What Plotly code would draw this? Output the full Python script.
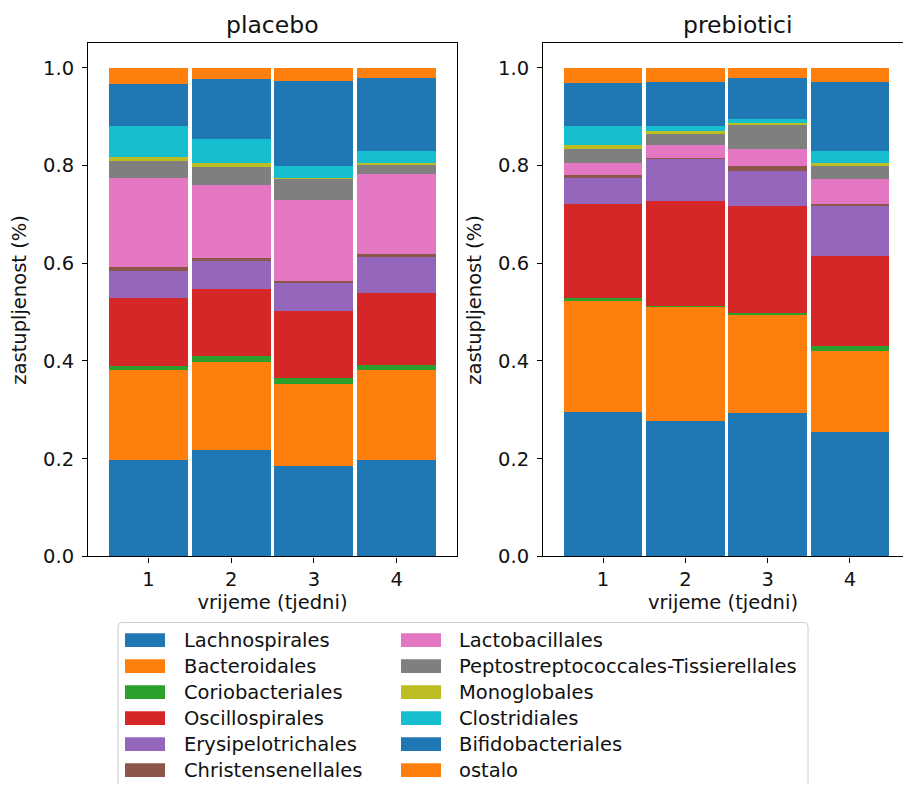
import plotly.graph_objects as go

# Relative abundance of bacterial orders per week, two study groups
weeks = [1, 2, 3, 4]
tick_labels = ["1", "2", "3", "4"]

orders = [
    "Lachnospirales", "Bacteroidales", "Coriobacteriales", "Oscillospirales",
    "Erysipelotrichales", "Christensenellales", "Lactobacillales",
    "Peptostreptococcales-Tissierellales", "Monoglobales", "Clostridiales",
    "Bifidobacteriales", "ostalo",
]

# placebo group, weeks 1-4
pl_lachnospirales = [0.198, 0.218, 0.185, 0.198]
pl_bacteroidales = [0.183, 0.179, 0.168, 0.184]
pl_coriobacteriales = [0.008, 0.013, 0.013, 0.010]
pl_oscillospirales = [0.140, 0.137, 0.137, 0.147]
pl_erysipelotrichales = [0.056, 0.058, 0.057, 0.075]
pl_christensenellales = [0.008, 0.006, 0.004, 0.004]
pl_lactobacillales = [0.181, 0.150, 0.166, 0.164]
pl_peptostreptococcales = [0.036, 0.036, 0.042, 0.020]
pl_monoglobales = [0.008, 0.008, 0.002, 0.003]
pl_clostridiales = [0.062, 0.050, 0.026, 0.024]
pl_bifidobacteriales = [0.086, 0.121, 0.173, 0.150]
pl_ostalo = [0.034, 0.024, 0.027, 0.021]

# prebiotic group, weeks 1-4
pr_lachnospirales = [0.296, 0.278, 0.294, 0.255]
pr_bacteroidales = [0.227, 0.233, 0.201, 0.165]
pr_coriobacteriales = [0.005, 0.002, 0.004, 0.011]
pr_oscillospirales = [0.194, 0.215, 0.218, 0.183]
pr_erysipelotrichales = [0.052, 0.085, 0.072, 0.103]
pr_christensenellales = [0.006, 0.002, 0.011, 0.005]
pr_lactobacillales = [0.025, 0.026, 0.034, 0.050]
pr_peptostreptococcales = [0.028, 0.024, 0.049, 0.028]
pr_monoglobales = [0.008, 0.005, 0.005, 0.005]
pr_clostridiales = [0.039, 0.010, 0.008, 0.024]
pr_bifidobacteriales = [0.088, 0.090, 0.083, 0.141]
pr_ostalo = [0.032, 0.030, 0.021, 0.030]

placebo = [
    pl_lachnospirales, pl_bacteroidales, pl_coriobacteriales, pl_oscillospirales,
    pl_erysipelotrichales, pl_christensenellales, pl_lactobacillales,
    pl_peptostreptococcales, pl_monoglobales, pl_clostridiales,
    pl_bifidobacteriales, pl_ostalo,
]
prebiotici = [
    pr_lachnospirales, pr_bacteroidales, pr_coriobacteriales, pr_oscillospirales,
    pr_erysipelotrichales, pr_christensenellales, pr_lactobacillales,
    pr_peptostreptococcales, pr_monoglobales, pr_clostridiales,
    pr_bifidobacteriales, pr_ostalo,
]

colors = [
    "#1f77b4", "#ff7f0e", "#2ca02c", "#d62728", "#9467bd", "#8c564b",
    "#e377c2", "#7f7f7f", "#bcbd22", "#17becf", "#1f77b4", "#ff7f0e",
]

W, H = 903, 796
FONT = "DejaVu Sans"
FS = 19.5      # tick, axis-title and legend text
FS_TITLE = 23.5
TEXT = "#111111"


def px_x(x):
    return x / W


def px_y(y):
    return (H - y) / H


fig = go.Figure()

for name, color, vals in zip(orders, colors, placebo):
    fig.add_trace(go.Bar(x=weeks, y=vals, name=name, marker_color=color,
                         marker_line_width=0, xaxis="x", yaxis="y",
                         showlegend=False))
for name, color, vals in zip(orders, colors, prebiotici):
    fig.add_trace(go.Bar(x=weeks, y=vals, name=name, marker_color=color,
                         marker_line_width=0, xaxis="x2", yaxis="y2",
                         showlegend=False))

axis_common = dict(
    showline=True, linecolor="black", linewidth=1.1,
    ticks="outside", ticklen=5, tickwidth=1.1, tickcolor="black",
    showgrid=False, zeroline=False,
    tickfont=dict(family=FONT, size=FS, color=TEXT),
)
y_ticks = [0, 0.2, 0.4, 0.6, 0.8, 1.0]
y_text = ["0.0", "0.2", "0.4", "0.6", "0.8", "1.0"]
y_dom = [px_y(565), px_y(44)]

fig.update_layout(
    width=W, height=H, autosize=False,
    margin=dict(l=0, r=0, t=0, b=0),
    paper_bgcolor="white", plot_bgcolor="white",
    barmode="stack", bargap=0.045,
    font=dict(family=FONT, size=FS, color=TEXT),
    xaxis=dict(domain=[px_x(88), px_x(457)], range=[0.27, 4.73], mirror=True,
               tickvals=weeks, ticktext=tick_labels,
               title=dict(text="vrijeme (tjedni)", standoff=4,
                          font=dict(family=FONT, size=FS)),
               anchor="y", **axis_common),
    yaxis=dict(domain=y_dom, range=[0, 1.05], mirror=True,
               tickvals=y_ticks, ticktext=y_text, ticklabelstandoff=4,
               title=dict(text="zastupljenost (%)", standoff=11,
                          font=dict(family=FONT, size=FS)),
               anchor="x", **axis_common),
    xaxis2=dict(domain=[px_x(543), 1.0], range=[0.27, 4.645], mirror=True,
                tickvals=weeks, ticktext=tick_labels,
                title=dict(text="vrijeme (tjedni)", standoff=4,
                           font=dict(family=FONT, size=FS)),
                anchor="y2", **axis_common),
    yaxis2=dict(domain=y_dom, range=[0, 1.05], mirror=False,
                tickvals=y_ticks, ticktext=y_text, ticklabelstandoff=4,
                title=dict(text="zastupljenost (%)", standoff=11,
                           font=dict(family=FONT, size=FS)),
                anchor="x2", **axis_common),
)

# Panel titles
for text, cx in (("placebo", 272), ("prebiotici", 738)):
    fig.add_annotation(text=text, x=px_x(cx), y=px_y(25), xref="paper", yref="paper",
                       showarrow=False, xanchor="center", yanchor="middle",
                       font=dict(family=FONT, size=FS_TITLE, color=TEXT))

# Two-column legend below the panels; its frame runs off the bottom edge
lx0, lx1, ly_top, r = 118, 808, 632, 4
frame_path = (
    f"M {px_x(lx0)},{px_y(H)} L {px_x(lx0)},{px_y(ly_top + r)} "
    f"Q {px_x(lx0)},{px_y(ly_top)} {px_x(lx0 + r)},{px_y(ly_top)} "
    f"L {px_x(lx1 - r)},{px_y(ly_top)} "
    f"Q {px_x(lx1)},{px_y(ly_top)} {px_x(lx1)},{px_y(ly_top + r)} "
    f"L {px_x(lx1)},{px_y(H)}"
)
shapes = [dict(type="path", xref="paper", yref="paper", path=frame_path,
               line=dict(color="#cccccc", width=1), layer="above")]
row_h = 26.4
for i, (name, color) in enumerate(zip(orders, colors)):
    col, row = divmod(i, 6)
    sx = 125 if col == 0 else 401
    tx = 182 if col == 0 else 457
    cy = 650 + row * row_h
    shapes.append(dict(type="rect", xref="paper", yref="paper",
                       x0=px_x(sx), x1=px_x(sx + 40), y0=px_y(cy + 7), y1=px_y(cy - 7),
                       line=dict(width=0), fillcolor=color, layer="above"))
    fig.add_annotation(text=name, x=px_x(tx), y=px_y(cy), xref="paper", yref="paper",
                       showarrow=False, xanchor="left", yanchor="middle",
                       font=dict(family=FONT, size=FS, color=TEXT))
fig.update_layout(shapes=shapes)

fig.write_html(
    "out.html",
    config={"displayModeBar": False, "responsive": False},
    post_script="document.body.style.margin='0';document.body.style.overflow='hidden';",
)
